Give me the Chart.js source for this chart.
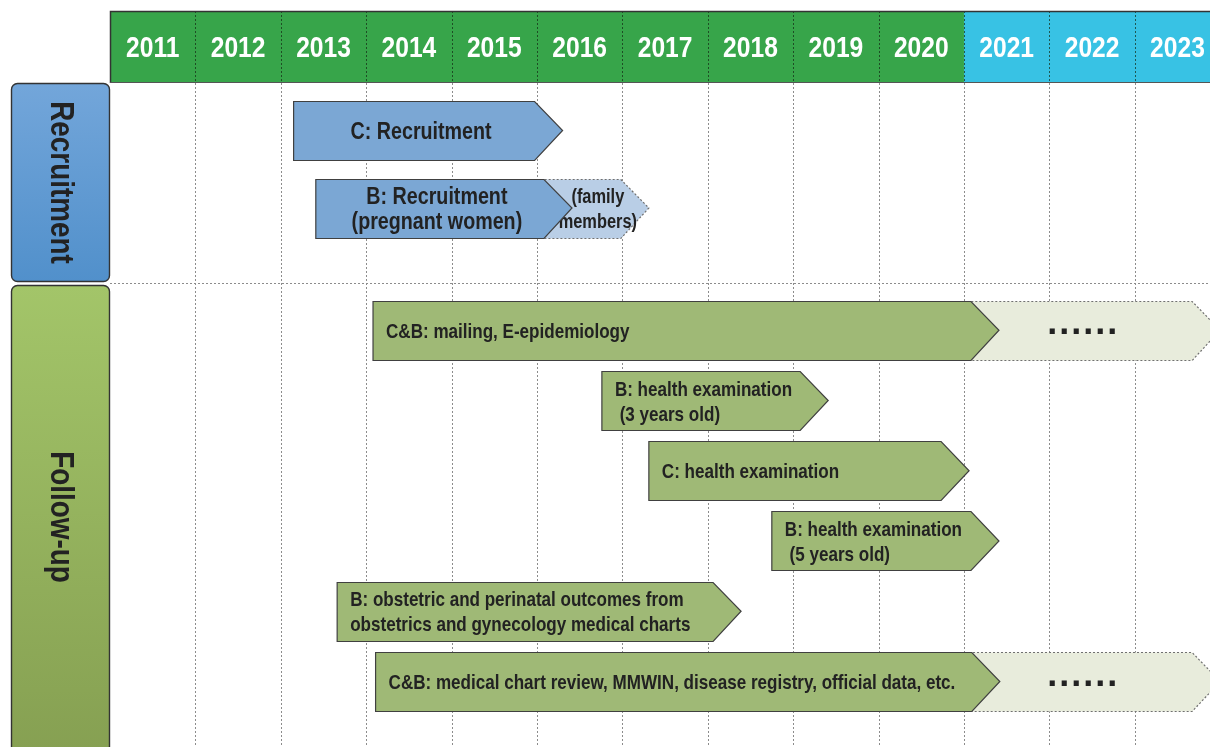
<!DOCTYPE html>
<html>
<head>
<meta charset="utf-8">
<script src="https://cdn.jsdelivr.net/npm/chart.js@4.4.1/dist/chart.umd.min.js"></script>
<style>
html,body{margin:0;padding:0;background:#fff;overflow:hidden}
#wrap{position:relative;width:1210px;height:747px}
</style>
</head>
<body>
<div id="wrap"><canvas id="c" width="1210" height="747"></canvas></div>
<script>
// ---------- data ----------
const yearTicks = [2011, 2012, 2013, 2014, 2015, 2016, 2017, 2018, 2019, 2020, 2021, 2022, 2023];
const yearLabels = ['2011', '2012', '2013', '2014', '2015', '2016', '2017', '2018', '2019', '2020', '2021', '2022', '2023'];
const plannedFrom = 2021;
const panelNames = ['Recruitment', 'Follow-up'];

const recruitLane = [0, 1];
const recruitStart = [2013.15, 2013.41];
const recruitEnd = [2016.30, 2016.41];
const recruitText = [['C: Recruitment'], ['B: Recruitment', '(pregnant women)']];

const familyLane = [1];
const familyStart = [2015.20];
const familyEnd = [2017.31];
const familyText = [['(family', 'members)']];

const followLane = [0, 1, 2, 3, 4, 5];
const followStart = [2014.08, 2016.76, 2017.31, 2018.75, 2013.66, 2014.11];
const followEnd = [2021.41, 2019.41, 2021.06, 2021.41, 2018.39, 2021.42];
const followText = [
  ['C&B: mailing, E-epidemiology'],
  ['B: health examination', ' (3 years old)'],
  ['C: health examination'],
  ['B: health examination', ' (5 years old)'],
  ['B: obstetric and perinatal outcomes from', 'obstetrics and gynecology medical charts'],
  ['C&B: medical chart review, MMWIN, disease registry, official data, etc.']
];

const ongoingLane = [0, 5];
const ongoingStart = [2020.43, 2020.45];
const ongoingEnd = [2024.0, 2024.0];
const ongoingText = [['......'], ['......']];

// ---------- styling ----------
const FONT = "'Liberation Sans', Arial, sans-serif";
const NARROW = 0.82;   // horizontal squeeze to imitate a narrow bold face
const HEAD = 28;

function drawText(ctx, text, x, y, align, sx) {
  ctx.save();
  ctx.translate(x, y);
  ctx.scale(sx, 1);
  ctx.textAlign = align;
  ctx.fillText(text, 0, 0);
  ctx.restore();
}

function mk(lanes, starts, ends, texts, axis, style) {
  return Object.assign({
    data: lanes.map((l, i) => ({ x: [starts[i], ends[i]], y: l })),
    texts: texts,
    yAxisID: axis,
    grouped: false,
    barThickness: 59
  }, style);
}

const datasets = [
  mk(recruitLane, recruitStart, recruitEnd, recruitText, 'yR',
     { backgroundColor: '#7ba7d4', borderColor: '#404040', dash: [], fontSize: 24, labelMode: 'center', sx: NARROW, yShift: 2 }),
  mk(followLane, followStart, followEnd, followText, 'yF',
     { backgroundColor: '#9fb976', borderColor: '#404040', dash: [], fontSize: 20.8, labelMode: 'left', sx: NARROW, yShift: 2 }),
  mk(familyLane, familyStart, familyEnd, familyText, 'yR',
     { backgroundColor: '#b9cee6', borderColor: '#707070', dash: [2, 2], fontSize: 20, labelMode: 'tip', tipOffset: 51, sx: NARROW, yShift: 2 }),
  mk(ongoingLane, ongoingStart, ongoingEnd, ongoingText, 'yF',
     { backgroundColor: '#e8ecdc', borderColor: '#707070', dash: [2, 2], fontSize: 36, labelMode: 'tip', tipOffset: 137, sx: 1, spacing: '2px', baseline: 'alphabetic', yShift: 4 })
];

const chevronPlugin = {
  id: 'chevrons',
  beforeDatasetDraw(chart, args) {
    const ds = chart.data.datasets[args.index];
    const ctx = chart.ctx;
    args.meta.data.forEach((el, i) => {
      const left = Math.min(el.x, el.base), tip = Math.max(el.x, el.base);
      const y = el.y, h = el.height;
      const top = Math.round(y - h / 2) + 0.5, bot = Math.round(y + h / 2) + 0.5;
      ctx.save();
      ctx.beginPath();
      ctx.moveTo(left, top);
      ctx.lineTo(tip - HEAD, top);
      ctx.lineTo(tip, y);
      ctx.lineTo(tip - HEAD, bot);
      ctx.lineTo(left, bot);
      ctx.closePath();
      ctx.fillStyle = ds.backgroundColor;
      ctx.fill();
      ctx.setLineDash(ds.dash);
      ctx.lineWidth = 1.2;
      ctx.strokeStyle = ds.borderColor;
      ctx.stroke();
      ctx.setLineDash([]);
      // label
      const lines = ds.texts[i];
      const lh = 25;
      ctx.font = 'bold ' + ds.fontSize + 'px ' + FONT;
      ctx.fillStyle = '#222';
      ctx.textBaseline = ds.baseline || 'middle';
      if (ds.spacing) ctx.letterSpacing = ds.spacing;
      let tx, align;
      if (ds.labelMode === 'left') { align = 'left'; tx = left + 13; }
      else if (ds.labelMode === 'center') { align = 'center'; tx = (left + tip - HEAD / 2) / 2; }
      else { align = 'center'; tx = tip - ds.tipOffset; }
      const y0 = y - (lines.length - 1) * lh / 2 + ds.yShift;
      lines.forEach((t, k) => drawText(ctx, t, tx, y0 + k * lh, align, ds.sx));
      ctx.restore();
    });
    return false;
  }
};

const decoPlugin = {
  id: 'deco',
  beforeDraw(chart) {
    const ctx = chart.ctx;
    const xs = chart.scales.x, yR = chart.scales.yR, yF = chart.scales.yF;
    const split = xs.getPixelForValue(plannedFrom);
    // header band
    ctx.save();
    ctx.fillStyle = '#37a54a';
    ctx.fillRect(xs.left, xs.top, split - xs.left, xs.bottom - xs.top);
    ctx.fillStyle = '#38c2e4';
    ctx.fillRect(split, xs.top, xs.right - split, xs.bottom - xs.top);
    ctx.strokeStyle = 'rgba(20,40,20,0.7)';
    ctx.lineWidth = 1;
    ctx.setLineDash([2, 2]);
    yearTicks.slice(1).forEach(yv => {
      const px = Math.round(xs.getPixelForValue(yv)) + 0.5;
      ctx.beginPath(); ctx.moveTo(px, xs.top); ctx.lineTo(px, xs.bottom); ctx.stroke();
    });
    ctx.setLineDash([]);
    ctx.strokeStyle = '#333';
    ctx.lineWidth = 1.5;
    ctx.beginPath();
    ctx.moveTo(xs.right, xs.top + 0.5); ctx.lineTo(xs.left + 0.5, xs.top + 0.5); ctx.lineTo(xs.left + 0.5, xs.bottom);
    ctx.stroke();
    ctx.strokeStyle = '#555';
    ctx.lineWidth = 1;
    ctx.beginPath(); ctx.moveTo(xs.left, xs.bottom - 0.5); ctx.lineTo(xs.right, xs.bottom - 0.5); ctx.stroke();

    // year labels at the x-scale tick positions
    ctx.font = 'bold 30px ' + FONT;
    ctx.fillStyle = '#ffffff';
    ctx.textBaseline = 'middle';
    xs.ticks.forEach((t, i) => {
      drawText(ctx, yearLabels[i], xs.getPixelForValue(t.value), (xs.top + xs.bottom) / 2 + 2, 'center', NARROW);
    });

    // panel boxes
    const boxes = [
      { top: yR.top, bottom: yR.bottom - 1, c0: '#73a6da', c1: '#5190cb', name: panelNames[0], cy: null },
      { top: yF.top + 2, bottom: yF.bottom + 6, c0: '#a3c569', c1: '#86a052', name: panelNames[1], cy: 517 }
    ];
    boxes.forEach(b => {
      const g = ctx.createLinearGradient(0, b.top, 0, b.bottom);
      g.addColorStop(0, b.c0); g.addColorStop(1, b.c1);
      ctx.beginPath();
      ctx.roundRect(11.5, b.top + 0.5, 98, b.bottom - b.top - 1, 6);
      ctx.fillStyle = g; ctx.fill();
      ctx.strokeStyle = '#333'; ctx.lineWidth = 1.4; ctx.stroke();
      ctx.save();
      const cy = b.cy || (b.top + b.bottom) / 2;
      ctx.translate(60, cy);
      ctx.rotate(Math.PI / 2);
      ctx.font = 'bold 34px ' + FONT;
      ctx.fillStyle = '#222';
      ctx.textBaseline = 'middle';
      drawText(ctx, b.name, 0, 0, 'center', NARROW);
      ctx.restore();
    });
    ctx.restore();
  },
  beforeDatasetsDraw(chart) {
    const ctx = chart.ctx;
    const xs = chart.scales.x, yR = chart.scales.yR;
    const ca = chart.chartArea;
    ctx.save();
    ctx.strokeStyle = '#8c8c8c';
    ctx.lineWidth = 1;
    ctx.setLineDash([2, 2]);
    yearTicks.slice(1).forEach(yv => {
      const px = Math.round(xs.getPixelForValue(yv)) + 0.5;
      ctx.beginPath(); ctx.moveTo(px, ca.top); ctx.lineTo(px, ca.bottom); ctx.stroke();
    });
    const hy = Math.round(yR.bottom) + 0.5;
    ctx.beginPath(); ctx.moveTo(ca.left, hy); ctx.lineTo(ca.right, hy); ctx.stroke();
    ctx.restore();
  }
};

new Chart(document.getElementById('c'), {
  type: 'bar',
  data: { datasets: datasets },
  options: {
    indexAxis: 'y',
    responsive: false,
    animation: false,
    events: [],
    layout: { padding: { left: 110, top: 11, right: 0, bottom: 0 } },
    plugins: { legend: { display: false }, tooltip: { enabled: false } },
    scales: {
      x: {
        type: 'linear',
        position: 'top',
        min: 2011,
        max: 2023.881,
        bounds: 'data',
        offset: false,
        grid: { display: false, drawTicks: false },
        border: { display: false },
        afterBuildTicks(scale) { scale.ticks = yearTicks.map(v => ({ value: v + 0.5 })); },
        afterFit(scale) { scale.height = 72; },
        ticks: {
          display: false,
          autoSkip: false,
          maxRotation: 0,
          callback: (v, i) => yearLabels[i]
        }
      },
      yF: {
        type: 'linear',
        display: false,
        reverse: true,
        offset: false,
        stack: 'rows',
        stackWeight: 464,
        bounds: 'data',
        min: -0.672,
        max: 5.932,
        grid: { display: false, offset: false }
      },
      yR: {
        type: 'linear',
        display: false,
        reverse: true,
        offset: false,
        stack: 'rows',
        stackWeight: 200,
        bounds: 'data',
        min: -0.6129,
        max: 1.9677,
        grid: { display: false, offset: false }
      }
    }
  },
  plugins: [decoPlugin, chevronPlugin]
});
</script>
</body>
</html>
